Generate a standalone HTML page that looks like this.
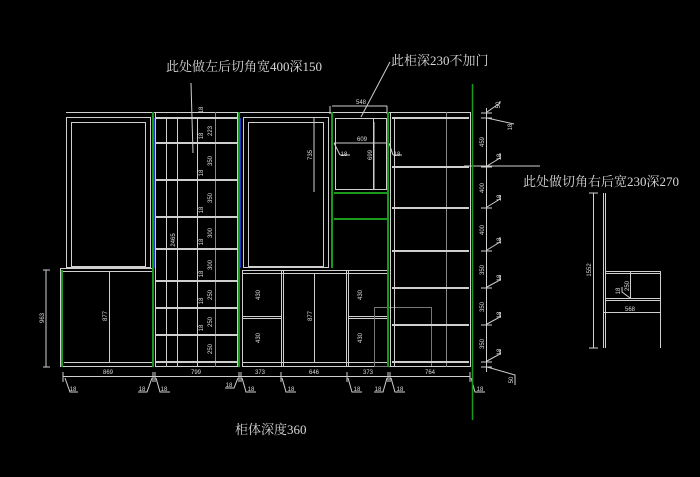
<!DOCTYPE html>
<html><head><meta charset="utf-8"><style>
html,body{margin:0;padding:0;background:#000;width:700px;height:477px;overflow:hidden}
svg{display:block}
text{font-family:"Liberation Sans","Noto Sans CJK SC",sans-serif;fill:#ddd}
.big{font-family:"Liberation Serif","Noto Serif CJK SC",serif;fill:#d8d8d8}
.s{font-size:6px;fill:#ccc}
</style></head><body>
<svg width="700" height="477" viewBox="0 0 700 477" xmlns="http://www.w3.org/2000/svg">
<g stroke="#cfcfcf" stroke-width="1" fill="none">
<line x1="66" y1="112.5" x2="470" y2="112.5"/>
<rect x="66.5" y="117.5" width="84" height="150"/>
<rect x="71.5" y="122.5" width="74" height="144"/>
<rect x="60.5" y="268.5" width="92" height="98"/>
<line x1="60" y1="271.5" x2="153" y2="271.5"/>
<line x1="109.5" y1="272" x2="109.5" y2="362"/>
<line x1="64" y1="362.5" x2="152" y2="362.5"/>
<rect x="155.5" y="112.5" width="82" height="254"/>
<line x1="166.5" y1="118" x2="166.5" y2="367"/>
<line x1="177.5" y1="118" x2="177.5" y2="367"/>
<line x1="197.5" y1="118" x2="197.5" y2="367"/>
<line x1="215.5" y1="112" x2="215.5" y2="367" stroke="#888"/>
<g stroke-width="2">
<line x1="156" y1="118" x2="237" y2="118"/>
<line x1="156" y1="143" x2="237" y2="143"/>
<line x1="156" y1="180" x2="237" y2="180"/>
<line x1="156" y1="217" x2="237" y2="217"/>
<line x1="156" y1="249" x2="237" y2="249"/>
<line x1="156" y1="281" x2="237" y2="281"/>
<line x1="156" y1="308" x2="237" y2="308"/>
<line x1="156" y1="335" x2="237" y2="335"/>
<line x1="156" y1="362" x2="237" y2="362"/>
</g>
<rect x="243.5" y="117.5" width="85" height="150"/>
<rect x="248.5" y="122.5" width="75" height="144"/>
<rect x="242.5" y="270.5" width="146" height="96"/>
<line x1="242" y1="273.5" x2="388" y2="273.5"/>
<line x1="281.5" y1="271" x2="281.5" y2="367"/>
<line x1="283.5" y1="271" x2="283.5" y2="367"/>
<line x1="346.5" y1="271" x2="346.5" y2="367"/>
<line x1="348.5" y1="271" x2="348.5" y2="367"/>
<line x1="314.5" y1="273" x2="314.5" y2="362"/>
<line x1="242" y1="316.5" x2="281" y2="316.5"/>
<line x1="242" y1="318.5" x2="281" y2="318.5"/>
<line x1="348" y1="316.5" x2="388" y2="316.5"/>
<line x1="348" y1="318.5" x2="388" y2="318.5"/>
<line x1="242" y1="362.5" x2="388" y2="362.5"/>
<rect x="374.5" y="307.5" width="57" height="59" stroke="#777"/>
<rect x="335.5" y="118.5" width="51" height="71"/>
<line x1="373.5" y1="118" x2="373.5" y2="190"/>
<rect x="390.5" y="112.5" width="80" height="254"/>
<line x1="394.5" y1="118" x2="394.5" y2="367"/>
<line x1="446.5" y1="112" x2="446.5" y2="367" stroke="#888"/>
<g stroke-width="2">
<line x1="392" y1="118" x2="469" y2="118"/>
<line x1="392" y1="167" x2="469" y2="167"/>
<line x1="392" y1="208" x2="469" y2="208"/>
<line x1="392" y1="251" x2="469" y2="251"/>
<line x1="392" y1="288" x2="469" y2="288"/>
<line x1="392" y1="325" x2="469" y2="325"/>
<line x1="392" y1="362" x2="469" y2="362"/>
</g>
<line x1="46" y1="270" x2="46" y2="367"/><line x1="43" y1="270" x2="50" y2="270"/><line x1="43" y1="367" x2="50" y2="367"/>
<line x1="314" y1="118" x2="314" y2="192"/>
<line x1="330" y1="106" x2="330" y2="114"/><line x1="387" y1="106" x2="387" y2="114"/><line x1="332" y1="106" x2="387" y2="106"/>
<line x1="334" y1="143" x2="388" y2="143"/>
<line x1="374" y1="122" x2="374" y2="190"/>
<line x1="334" y1="143" x2="340" y2="155"/><line x1="340" y1="155" x2="350" y2="155"/>
<line x1="389" y1="143" x2="393" y2="155"/><line x1="393" y1="155" x2="402" y2="155"/>
<line x1="63" y1="376.5" x2="470" y2="376.5"/>
<g>
<line x1="63" y1="372" x2="63" y2="382"/><line x1="153" y1="372" x2="153" y2="382"/><line x1="155" y1="372" x2="155" y2="382"/>
<line x1="239" y1="372" x2="239" y2="382"/><line x1="241" y1="372" x2="241" y2="382"/><line x1="281" y1="372" x2="281" y2="382"/>
<line x1="347" y1="372" x2="347" y2="382"/><line x1="388" y1="372" x2="388" y2="382"/><line x1="390" y1="372" x2="390" y2="382"/><line x1="470" y1="372" x2="470" y2="382"/>
<polyline points="65,378 70,392 78,392"/><polyline points="152,378 147,392 138,392"/><polyline points="156,378 160,392 170,392"/>
<polyline points="238,378 234,388 225,388"/><polyline points="242,378 246,392 256,392"/><polyline points="282,378 286,392 296,392"/>
<polyline points="348,378 352,392 362,392"/><polyline points="387,378 383,392 374,392"/><polyline points="391,378 395,392 405,392"/><polyline points="471,378 475,392 485,392"/>
</g>
<line x1="486.5" y1="108" x2="486.5" y2="372"/>
<g>
<line x1="481" y1="113" x2="492" y2="113"/><line x1="481" y1="118" x2="492" y2="118"/><line x1="481" y1="167" x2="492" y2="167"/>
<line x1="481" y1="208" x2="492" y2="208"/><line x1="481" y1="251" x2="492" y2="251"/><line x1="481" y1="288" x2="492" y2="288"/>
<line x1="481" y1="325" x2="492" y2="325"/><line x1="481" y1="362" x2="492" y2="362"/><line x1="481" y1="367" x2="492" y2="367"/>
<polyline points="487,112 500,103 500,101"/><polyline points="487,118 514,124"/><polyline points="487,166 500,158 500,153"/>
<polyline points="487,207 500,199 500,195"/><polyline points="487,250 500,242 500,237"/><polyline points="487,287 500,280 500,275"/>
<polyline points="487,324 500,317 500,312"/><polyline points="487,361 500,354 500,350"/><polyline points="487,367 515,375 515,385"/>
</g>
<line x1="191" y1="83" x2="193" y2="153"/>
<line x1="390" y1="62" x2="361" y2="117"/>
<line x1="464" y1="166" x2="540" y2="166"/>
<line x1="603.5" y1="193" x2="603.5" y2="348"/>
<line x1="605.5" y1="193" x2="605.5" y2="348"/>
<line x1="605" y1="271.5" x2="660" y2="271.5"/>
<line x1="605" y1="273.5" x2="660" y2="273.5"/>
<line x1="605" y1="298.5" x2="660" y2="298.5"/>
<line x1="605" y1="300.5" x2="660" y2="300.5"/>
<line x1="660.5" y1="271" x2="660.5" y2="348"/>
<line x1="630.5" y1="272" x2="630.5" y2="298"/>
<line x1="604" y1="312.5" x2="661" y2="312.5"/>
<line x1="593.5" y1="193" x2="593.5" y2="348"/>
<line x1="589" y1="193" x2="598" y2="193"/><line x1="589" y1="348" x2="598" y2="348"/>
<polyline points="630,298 622,292 622,287"/>
</g>
<g fill="none">
<line x1="62" y1="270" x2="62" y2="367" stroke="#1a9a1a" stroke-width="2"/>
<line x1="153" y1="112" x2="153" y2="367" stroke="#1a9a1a" stroke-width="2"/>
<line x1="154.5" y1="118" x2="154.5" y2="268" stroke="#2233cc" stroke-width="1"/>
<line x1="239" y1="112" x2="239" y2="367" stroke="#1a9a1a" stroke-width="2"/>
<line x1="240.5" y1="118" x2="240.5" y2="268" stroke="#2233cc" stroke-width="1"/>
<line x1="332" y1="112" x2="332" y2="268" stroke="#1a9a1a" stroke-width="2"/>
<line x1="388" y1="112" x2="388" y2="367" stroke="#1a9a1a" stroke-width="2"/>
<line x1="334" y1="193" x2="387" y2="193" stroke="#1a9a1a" stroke-width="2"/>
<line x1="334" y1="219" x2="387" y2="219" stroke="#1a9a1a" stroke-width="2"/>
<line x1="472.5" y1="84" x2="472.5" y2="420" stroke="#1a9a1a" stroke-width="1.5"/>
</g>
<text class="big" x="166" y="71" font-size="13">此处做左后切角宽400深150</text>
<text class="big" x="391" y="65" font-size="13">此柜深230不加门</text>
<text class="big" x="523" y="186" font-size="13">此处做切角右后宽230深270</text>
<text class="big" x="235" y="434" font-size="13">柜体深度360</text>
<g class="s" text-anchor="middle">
<text x="108" y="374">869</text><text x="196" y="374">799</text><text x="260" y="374">373</text>
<text x="314" y="374">646</text><text x="368" y="374">373</text><text x="430" y="374">764</text>
<text x="73" y="391">18</text><text x="142" y="391">18</text><text x="164" y="391">18</text>
<text x="229" y="387">18</text><text x="251" y="391">18</text><text x="291" y="391">18</text>
<text x="357" y="391">18</text><text x="378" y="391">18</text><text x="400" y="391">18</text><text x="480" y="391">18</text>
<text x="361" y="104">548</text><text x="362" y="141">609</text>
<text x="344" y="156">18</text><text x="397" y="156">18</text><text x="630" y="311">568</text>
</g>
<g class="s" text-anchor="middle">
<text transform="translate(44,318) rotate(-90)">963</text>
<text transform="translate(107,316) rotate(-90)">877</text>
<text transform="translate(312,316) rotate(-90)">877</text>
<text transform="translate(312,155) rotate(-90)">735</text>
<text transform="translate(372,155) rotate(-90)">699</text>
<text transform="translate(175,240) rotate(-90)">2465</text>
<text transform="translate(260,295) rotate(-90)">430</text><text transform="translate(260,338) rotate(-90)">430</text>
<text transform="translate(362,295) rotate(-90)">430</text><text transform="translate(362,338) rotate(-90)">430</text>
<text transform="translate(212,131) rotate(-90)">223</text><text transform="translate(212,161) rotate(-90)">350</text>
<text transform="translate(212,198) rotate(-90)">350</text><text transform="translate(212,233) rotate(-90)">300</text>
<text transform="translate(212,265) rotate(-90)">300</text><text transform="translate(212,295) rotate(-90)">250</text>
<text transform="translate(212,322) rotate(-90)">250</text><text transform="translate(212,349) rotate(-90)">250</text>
<text transform="translate(203,110) rotate(-90)">18</text><text transform="translate(203,136) rotate(-90)">18</text>
<text transform="translate(203,173) rotate(-90)">18</text><text transform="translate(203,210) rotate(-90)">18</text>
<text transform="translate(203,242) rotate(-90)">18</text><text transform="translate(203,274) rotate(-90)">18</text>
<text transform="translate(203,301) rotate(-90)">18</text><text transform="translate(203,328) rotate(-90)">18</text>
<text transform="translate(484,142) rotate(-90)">459</text><text transform="translate(484,188) rotate(-90)">400</text>
<text transform="translate(484,230) rotate(-90)">400</text><text transform="translate(484,270) rotate(-90)">350</text>
<text transform="translate(484,307) rotate(-90)">350</text><text transform="translate(484,344) rotate(-90)">350</text>
<text transform="translate(500,105) rotate(-90)">50</text><text transform="translate(512,127) rotate(-90)">18</text>
<text transform="translate(501,157) rotate(-90)">18</text><text transform="translate(501,198) rotate(-90)">18</text>
<text transform="translate(501,241) rotate(-90)">18</text><text transform="translate(501,278) rotate(-90)">18</text>
<text transform="translate(501,315) rotate(-90)">18</text><text transform="translate(501,352) rotate(-90)">18</text>
<text transform="translate(513,380) rotate(-90)">50</text>
<text transform="translate(591,270) rotate(-90)">1552</text>
<text transform="translate(629,286) rotate(-90)">250</text>
<text transform="translate(620,291) rotate(-90)">18</text>
</g>
</svg>
</body></html>
